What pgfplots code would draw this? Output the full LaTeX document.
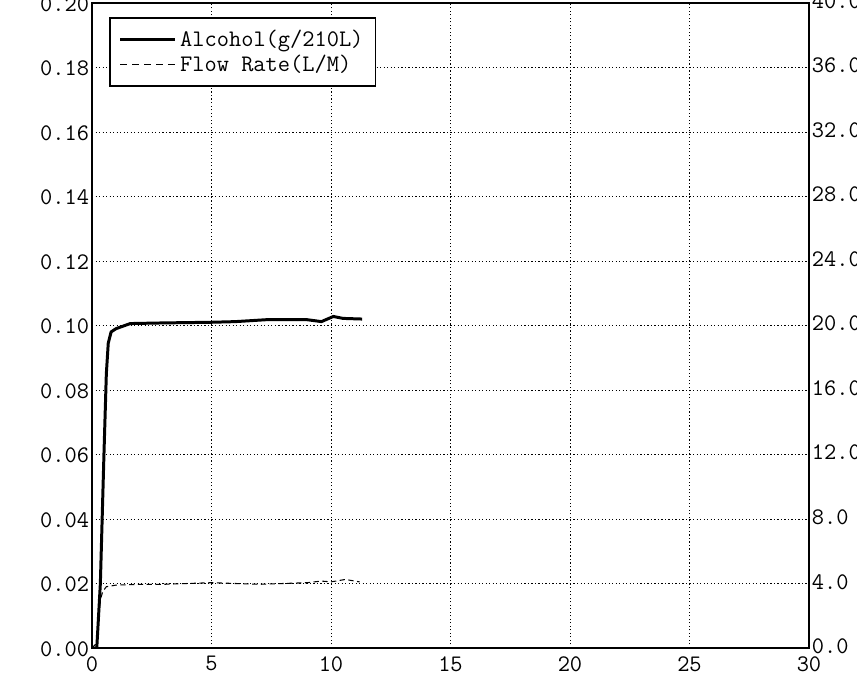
\documentclass[border=0pt]{standalone}
\usepackage{fontspec}
\usepackage{pgfplots}
\pgfplotsset{compat=1.18}
\newcommand{\tfont}{\ttfamily\fontsize{13.5}{15}\selectfont}
\begin{document}
\begin{tikzpicture}
\useasboundingbox (-1.84,-0.58) rectangle (15.30,12.96);
\clip (-1.84,-0.58) rectangle (15.30,12.96);
\begin{axis}[
  at={(0,0)}, anchor=south west,
  scale only axis, width=14.34cm, height=12.90cm,
  xmin=0, xmax=30, ymin=0, ymax=0.2,
  xtick={0,5,10,15,20,25,30},
  xticklabels={0,5,10,15,20,25,30},
  ytick={0,0.02,0.04,0.06,0.08,0.1,0.12,0.14,0.16,0.18,0.2},
  yticklabels={0.00,0.02,0.04,0.06,0.08,0.10,0.12,0.14,0.16,0.18,0.20},
  grid=major,
  major grid style={black, line width=0.5pt, dash pattern=on 0.7pt off 1.3pt},
  major tick length=0pt,
  axis line style={line width=1.1pt},
  ticklabel style={font=\tfont},
  yticklabel style={inner sep=1.5pt, yshift=-0.5pt},
  xticklabel style={inner sep=1pt, yshift=-3.5pt},
  legend cell align=left,
  legend style={at={(axis description cs:0.024,0.978)}, anchor=north west,
    draw=black, line width=0.8pt, fill=white, font=\tfont,
    inner xsep=5pt, inner ysep=5pt, row sep=-1pt,
    /tikz/every even column/.append style={column sep=5pt}},
  legend image code/.code={\draw[#1] (0cm,0cm) -- (1.1cm,0cm);},
]
\addplot[black, line width=1.7pt] coordinates {
(0,0) (0.2,0) (0.35,0.02) (0.5,0.06) (0.6,0.085) (0.68,0.0945) (0.8,0.098)
(1.0,0.099) (1.6,0.1006) (3,0.1008) (5,0.101) (6,0.1012) (7.3,0.1018)
(9,0.1018) (9.6,0.1012) (10.1,0.1028) (10.5,0.1022) (11.3,0.102)
};
\addlegendentry{Alcohol(g/210L)}
\addlegendimage{black, line width=0.6pt, dash pattern=on 4pt off 2.8pt}
\addlegendentry{Flow Rate(L/M)}
\end{axis}
\begin{axis}[
  at={(0,0)}, anchor=south west,
  scale only axis, width=14.34cm, height=12.90cm,
  xmin=0, xmax=30, ymin=0, ymax=40,
  axis x line=none, axis y line*=right,
  ytick={0,4,8,12,16,20,24,28,32,36,40},
  yticklabels={0.0,4.0,8.0,12.0,16.0,20.0,24.0,28.0,32.0,36.0,40.0},
  major tick length=0pt,
  axis line style={line width=1.1pt},
  ticklabel style={font=\tfont},
  yticklabel style={inner sep=1.5pt, yshift=1pt},
]
\addplot[black, line width=0.6pt, dash pattern=on 3pt off 2pt] coordinates {
(0,0) (0.2,0.3) (0.35,3.0) (0.45,3.5) (0.6,3.8) (1,3.9) (2,3.95) (3,3.95)
(4,4.0) (5,4.05) (6,4.0) (7,3.95) (8,4.0) (9,4.05) (9.6,4.15) (10,4.1)
(10.6,4.25) (11.2,4.1)
};
\end{axis}
\end{tikzpicture}
\end{document}
